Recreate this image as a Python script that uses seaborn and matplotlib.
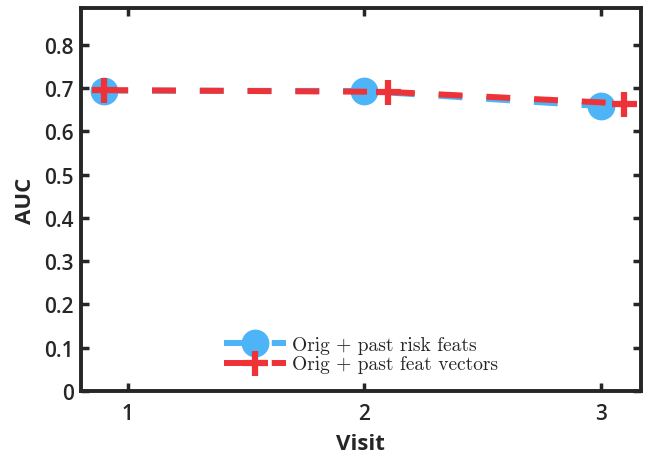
import matplotlib
matplotlib.use("Agg")
import matplotlib.pyplot as plt
import seaborn as sns
import pandas as pd

visits_risk = [0.9, 2.0, 3.0]
auc_risk = [0.694, 0.693, 0.658]
visits_vec = [0.9, 2.1, 3.1]
auc_vec = [0.695, 0.691, 0.664]
label_risk = "Orig + past risk feats"
label_vec = "Orig + past feat vectors"
xticks = [1, 2, 3]
yticks = [0, 0.1, 0.2, 0.3, 0.4, 0.5, 0.6, 0.7, 0.8]

sns.set_style("ticks")
plt.rcParams['font.family'] = ['Open Sans', 'DejaVu Sans']

fig = plt.figure(figsize=(6.48, 4.56), dpi=100)
ax = fig.add_axes([0.1244, 0.1404, 0.8646, 0.8392])

blue = "#4DB4F7"
red = "#EE3338"

df_r = pd.DataFrame({"x": visits_risk, "y": auc_risk})
df_v = pd.DataFrame({"x": visits_vec, "y": auc_vec})
sns.lineplot(data=df_r, x="x", y="y", ax=ax, color=blue, lw=4.3,
             marker="o", markersize=20, markeredgewidth=0,
             markerfacecolor=blue, markeredgecolor=blue, label=label_risk)
sns.lineplot(data=df_v, x="x", y="y", ax=ax, color=red, lw=4.3,
             marker="+", markersize=18, markeredgewidth=4.5,
             markeredgecolor=red, markerfacecolor=red, label=label_vec)
for ln in ax.get_lines():
    ln.set_dashes([4, 4])

ax.set_xlim(0.8, 3.17)
ax.set_ylim(0, 0.884)
ax.set_xticks(xticks)
ax.set_yticks(yticks)
ax.set_yticklabels(["0" if v == 0 else f"{v:.1f}" for v in yticks])
ax.tick_params(direction="in", length=6, width=2.5, labelsize=15,
               top=True, right=True, pad=5, color="#262626", labelcolor="#262626")
ax.tick_params(axis="x", pad=9)
for lab in ax.get_xticklabels() + ax.get_yticklabels():
    lab.set_fontweight("semibold")
for s in ax.spines.values():
    s.set_linewidth(2.8)
    s.set_color("#262626")
    s.set_visible(True)
ax.set_xlabel("Visit", fontsize=16, fontweight="bold", color="#262626", labelpad=6)
ax.set_ylabel("AUC", fontsize=16, fontweight="bold", color="#262626", labelpad=6)

leg = ax.legend(loc="lower center", bbox_to_anchor=(0.5, 0.0), frameon=False,
                prop={"family": "cmr10", "size": 14}, handlelength=3.2,
                handletextpad=0.3, labelspacing=0.1)
fig.savefig("out.png", dpi=100)
